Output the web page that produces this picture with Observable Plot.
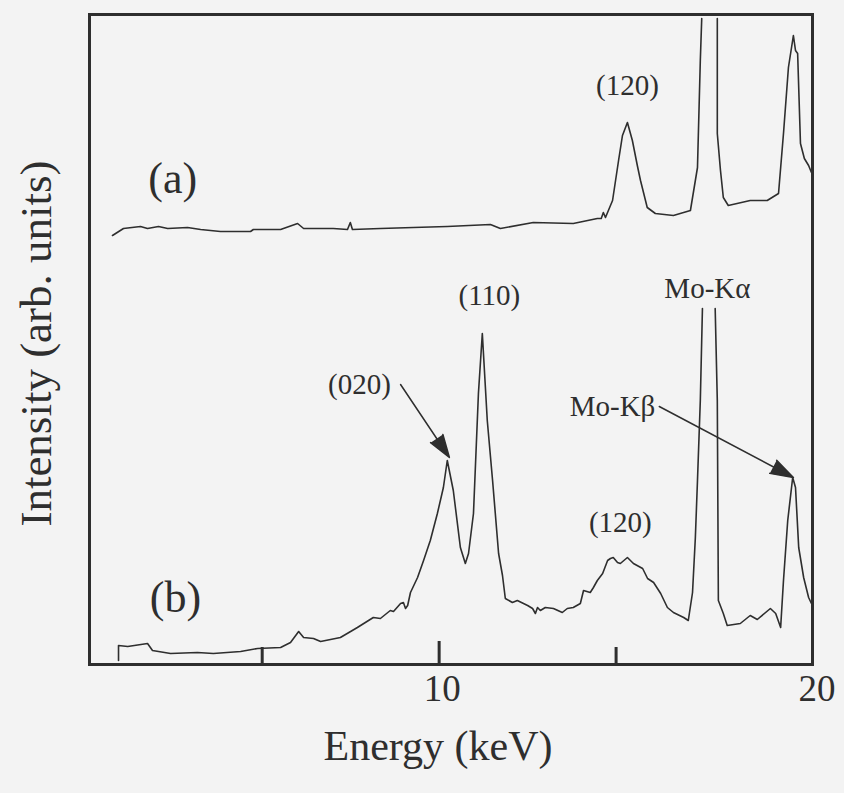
<!DOCTYPE html>
<html><head><meta charset="utf-8">
<script src="https://cdn.jsdelivr.net/npm/d3@7"></script>
<script src="https://cdn.jsdelivr.net/npm/@observablehq/plot@0.6"></script>
<style>
html,body{margin:0;padding:0;background:#f3f3f3;}
#chart{width:844px;height:793px;}
</style></head><body><div id="chart"></div>
<script>
// Spectrum (a): energy (keV) and intensity (arb. units); NaN marks the truncated Mo-Kα top
const energyA = [0.77,1.08,1.56,1.76,2.07,2.33,2.89,3.26,3.82,4.67,4.75,5.52,6.00,6.17,7.01,7.41,7.49,7.55,8.34,9.27,10.23,11.45,11.73,12.66,13.79,14.47,14.58,14.64,14.70,14.90,15.07,15.18,15.32,15.46,15.60,15.69,15.88,16.11,16.62,17.10,17.30,17.38,17.42,17.64,17.86,17.86,17.95,18.03,18.17,18.79,19.27,19.59,19.73,19.87,20.01,20.07,20.13,20.21,20.32,20.44,20.52];
const intensityA = [429,436,438,436,438,436,437,435,433,433,435,435,441,436,436,435,442,435,436,437,438,440,436,442,441,446,446,452,447,464,504,529,542,524,499,484,457,451,449,454,497,604,646,NaN,646,531,494,467,459,464,464,471,531,597,629,614,611,521,506,499,492];

// Spectrum (b); NaN marks the truncated Mo-Kα top
const energyB = [0.94,0.94,1.20,1.76,1.90,2.41,3.17,3.62,4.39,4.87,5.52,5.80,6.03,6.17,6.45,6.65,7.21,7.69,8.14,
  8.34,8.62,8.71,8.91,8.99,9.05,9.11,9.19,9.39,9.56,9.75,9.95,10.12,10.23,10.40,10.60,10.74,10.83,10.97,11.11,11.22,11.36,11.51,11.68,11.79,11.87,12.07,12.21,12.50,12.64,12.72,12.78,12.86,13.00,13.23,13.48,13.62,13.79,13.99,14.08,14.27,14.36,14.47,14.62,14.76,14.84,14.92,15.04,15.12,15.32,15.49,15.75,15.89,16.06,16.26,16.45,16.62,16.91,17.04,17.16,17.24,17.30,17.38,17.44,
  17.62,17.80,17.86,17.89,18.03,18.14,18.51,18.79,18.99,19.36,19.51,19.65,19.73,19.85,19.99,20.07,20.16,20.30,20.44,20.52];
const intensityB = [4,19,18,21,14,11,12,11,13,16,17,22,33,27,26,23,27,37,47,
  46,54,53,61,62,56,59,72,87,104,124,151,177,204,174,117,101,111,151,271,331,244,184,111,89,66,62,64,59,56,51,57,54,57,56,52,56,57,61,74,72,77,84,91,104,106,107,102,101,107,101,96,86,82,71,57,52,47,44,72,127,184,264,356,
  NaN,356,264,64,51,39,41,49,45,56,51,37,84,144,187,177,117,87,67,61];

// Peak annotations
const peakLabels = ["(120)","(110)","Mo-Kα","Mo-Kβ","(020)","(120)"];
const peakLabelEnergy = [15.32,11.42,17.58,14.90,7.75,15.12];
const peakLabelIntensity = [579,369,376,258,280,142];

const panelLabels = ["(a)","(b)"];
const panelEnergy = [2.47,2.55];
const panelIntensity = [486,67];

const arrowFromEnergy = [8.91,16.22];
const arrowFromIntensity = [280,258];
const arrowToEnergy = [10.29,20.01];
const arrowToIntensity = [207,187];

const minorTicks = [5,15];
const majorTicks = [10];
const tickLabelValues = [10,20];
const xLabel = "Energy (keV)";
const yLabel = "Intensity (arb. units)";

const seriesA = energyA.map((e,i)=>({e, v: intensityA[i]}));
const seriesB = energyB.map((e,i)=>({e, v: intensityB[i]}));
const peaks = peakLabels.map((t,i)=>({t, e: peakLabelEnergy[i], v: peakLabelIntensity[i]}));
const panels = panelLabels.map((t,i)=>({t, e: panelEnergy[i], v: panelIntensity[i]}));
const arrows = arrowFromEnergy.map((e,i)=>({x1:e, y1:arrowFromIntensity[i], x2:arrowToEnergy[i], y2:arrowToIntensity[i]}));

const ink = "#2e2e2e";
const chart = Plot.plot({
  width: 844,
  height: 793,
  marginLeft: 89,
  marginRight: 32,
  marginTop: 14,
  marginBottom: 129,
  style: {fontFamily: "'Liberation Serif', 'DejaVu Serif', serif", background: "#f3f3f3", color: ink},
  x: {domain: [0.12, 20.55], axis: null},
  y: {domain: [0, 650], axis: null},
  marks: [
    Plot.ruleX(minorTicks, {x: d=>d, insetTop: 633, stroke: ink, strokeWidth: 3}),
    Plot.ruleX(majorTicks, {x: d=>d, insetTop: 627, stroke: ink, strokeWidth: 3}),
    Plot.line(seriesA, {x: "e", y: "v", stroke: ink, strokeWidth: 1.6}),
    Plot.line(seriesB, {x: "e", y: "v", stroke: ink, strokeWidth: 1.6}),
    Plot.arrow(arrows, {x1:"x1", y1:"y1", x2:"x2", y2:"y2", stroke: ink, fill: ink, strokeWidth: 1.5, headAngle: 36, headLength: 24}),
    Plot.text(peaks, {x:"e", y:"v", text:"t", fontSize: 29, fill: ink}),
    Plot.text(panels, {x:"e", y:"v", text:"t", fontSize: 44, fill: ink}),
    Plot.text(tickLabelValues.slice(0,1), {x: d=>d, text: d=>String(d), frameAnchor:"bottom", dy: 36, dx: 3, fontSize: 37, fill: ink}),
    Plot.text(tickLabelValues.slice(1), {x: d=>d, text: d=>String(d), frameAnchor:"bottom", dy: 36, dx: 24, fontSize: 37, fill: ink}),
    Plot.text([xLabel], {text: d=>d, frameAnchor:"bottom", dy: 95, dx: -13, fontSize: 42, fill: ink}),
    Plot.text([yLabel], {text: d=>d, frameAnchor:"left", textAnchor: "middle", rotate: -90, dx: -53, dy: 4, fontSize: 45, fill: ink}),
    Plot.frame({stroke: ink, strokeWidth: 3})
  ]
});
document.getElementById("chart").appendChild(chart);
</script>
</body></html>
